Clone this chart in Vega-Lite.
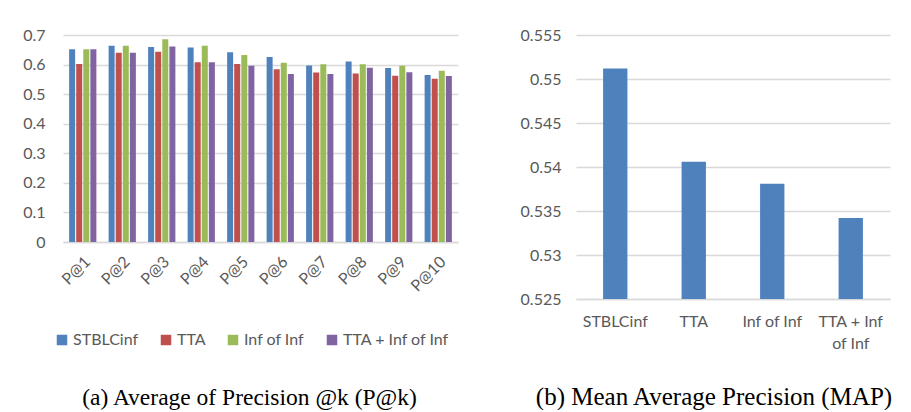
{
  "$schema": "https://vega.github.io/schema/vega-lite/v6.json",
  "background": "white",
  "padding": {"left": 22, "top": 27, "right": 0, "bottom": 0},
  "spacing": 62,
  "datasets": {
    "pk": [
      {"k": "P@1", "method": "STBLCinf", "value": 0.652},
      {"k": "P@1", "method": "TTA", "value": 0.602},
      {"k": "P@1", "method": "Inf of Inf", "value": 0.652},
      {"k": "P@1", "method": "TTA + Inf of Inf", "value": 0.652},
      {"k": "P@2", "method": "STBLCinf", "value": 0.664},
      {"k": "P@2", "method": "TTA", "value": 0.640},
      {"k": "P@2", "method": "Inf of Inf", "value": 0.664},
      {"k": "P@2", "method": "TTA + Inf of Inf", "value": 0.640},
      {"k": "P@3", "method": "STBLCinf", "value": 0.659},
      {"k": "P@3", "method": "TTA", "value": 0.643},
      {"k": "P@3", "method": "Inf of Inf", "value": 0.686},
      {"k": "P@3", "method": "TTA + Inf of Inf", "value": 0.661},
      {"k": "P@4", "method": "STBLCinf", "value": 0.658},
      {"k": "P@4", "method": "TTA", "value": 0.608},
      {"k": "P@4", "method": "Inf of Inf", "value": 0.664},
      {"k": "P@4", "method": "TTA + Inf of Inf", "value": 0.608},
      {"k": "P@5", "method": "STBLCinf", "value": 0.642},
      {"k": "P@5", "method": "TTA", "value": 0.602},
      {"k": "P@5", "method": "Inf of Inf", "value": 0.632},
      {"k": "P@5", "method": "TTA + Inf of Inf", "value": 0.596},
      {"k": "P@6", "method": "STBLCinf", "value": 0.626},
      {"k": "P@6", "method": "TTA", "value": 0.584},
      {"k": "P@6", "method": "Inf of Inf", "value": 0.606},
      {"k": "P@6", "method": "TTA + Inf of Inf", "value": 0.568},
      {"k": "P@7", "method": "STBLCinf", "value": 0.597},
      {"k": "P@7", "method": "TTA", "value": 0.573},
      {"k": "P@7", "method": "Inf of Inf", "value": 0.601},
      {"k": "P@7", "method": "TTA + Inf of Inf", "value": 0.568},
      {"k": "P@8", "method": "STBLCinf", "value": 0.610},
      {"k": "P@8", "method": "TTA", "value": 0.570},
      {"k": "P@8", "method": "Inf of Inf", "value": 0.601},
      {"k": "P@8", "method": "TTA + Inf of Inf", "value": 0.589},
      {"k": "P@9", "method": "STBLCinf", "value": 0.588},
      {"k": "P@9", "method": "TTA", "value": 0.562},
      {"k": "P@9", "method": "Inf of Inf", "value": 0.596},
      {"k": "P@9", "method": "TTA + Inf of Inf", "value": 0.574},
      {"k": "P@10", "method": "STBLCinf", "value": 0.565},
      {"k": "P@10", "method": "TTA", "value": 0.552},
      {"k": "P@10", "method": "Inf of Inf", "value": 0.579},
      {"k": "P@10", "method": "TTA + Inf of Inf", "value": 0.561}
    ],
    "map": [
      {"method": "STBLCinf", "value": 0.5512},
      {"method": "TTA", "value": 0.5406},
      {"method": "Inf of Inf", "value": 0.5381},
      {"method": "TTA + Inf of Inf", "value": 0.5342}
    ]
  },
  "hconcat": [
    {
      "width": 395,
      "height": 207,
      "data": {"name": "pk"},
      "mark": {"type": "bar"},
      "encoding": {
        "x": {
          "field": "k", "type": "nominal",
          "sort": ["P@1", "P@2", "P@3", "P@4", "P@5", "P@6", "P@7", "P@8", "P@9", "P@10"],
          "scale": {"paddingInner": 0.31, "paddingOuter": 0.155},
          "axis": {"title": null, "labelAngle": -45, "labelAlign": "right", "labelBaseline": "middle", "labelPadding": 17, "labelOffset": 5, "grid": false, "domain": true}
        },
        "xOffset": {
          "field": "method", "type": "nominal",
          "sort": ["STBLCinf", "TTA", "Inf of Inf", "TTA + Inf of Inf"],
          "scale": {"paddingInner": 0.15}
        },
        "y": {
          "field": "value", "type": "quantitative",
          "scale": {"domain": [0, 0.7], "nice": false},
          "axis": {"title": null, "values": [0, 0.1, 0.2, 0.3, 0.4, 0.5, 0.6, 0.7], "format": ".1~f", "labelPadding": 18, "domain": false, "grid": true}
        },
        "color": {
          "field": "method", "type": "nominal",
          "scale": {"domain": ["STBLCinf", "TTA", "Inf of Inf", "TTA + Inf of Inf"], "range": ["#4F81BD", "#C0504D", "#9BBB59", "#8064A2"]},
          "legend": {"title": null, "orient": "none", "legendX": -9, "legendY": 297, "direction": "horizontal", "symbolType": "square", "symbolSize": 110, "symbolStrokeWidth": 0, "labelFontSize": 16, "labelFont": "Lato", "labelColor": "#595959", "columnPadding": 19, "labelOffset": 3}
        }
      },
      "title": {"text": "(a) Average of Precision @k (P@k)", "orient": "bottom", "offset": 92, "dx": -11, "frame": "group", "anchor": "middle", "font": "Liberation Serif", "fontSize": 23.5, "fontWeight": "normal", "color": "black"}
    },
    {
      "width": 314,
      "height": 264,
      "data": {"name": "map"},
      "mark": {"type": "bar", "color": "#4F81BD", "clip": true},
      "encoding": {
        "x": {
          "field": "method", "type": "nominal",
          "sort": ["STBLCinf", "TTA", "Inf of Inf", "TTA + Inf of Inf"],
          "scale": {"paddingInner": 0.69, "paddingOuter": 0.345},
          "axis": {"title": null, "labelAngle": 0, "labelPadding": 14, "labelLineHeight": 22, "labelExpr": "datum.value == 'TTA + Inf of Inf' ? ['TTA + Inf', 'of Inf'] : datum.value", "grid": false, "domain": true}
        },
        "y": {
          "field": "value", "type": "quantitative",
          "scale": {"domain": [0.525, 0.555], "nice": false, "zero": false},
          "axis": {"title": null, "values": [0.525, 0.53, 0.535, 0.54, 0.545, 0.55, 0.555], "format": ".3~f", "labelPadding": 15, "domain": false, "grid": true}
        }
      },
      "title": {"text": "(b) Mean Average Precision (MAP)", "orient": "bottom", "offset": 34, "dx": -19, "frame": "group", "anchor": "middle", "font": "Liberation Serif", "fontSize": 25, "fontWeight": "normal", "color": "black"}
    }
  ],
  "config": {
    "view": {"stroke": null},
    "axis": {
      "labelFont": "Lato", "labelFontSize": 16, "labelColor": "#595959",
      "ticks": false, "gridColor": "#d9d9d9", "gridWidth": 1.5,
      "domainColor": "#d9d9d9", "domainWidth": 1.5
    }
  }
}
